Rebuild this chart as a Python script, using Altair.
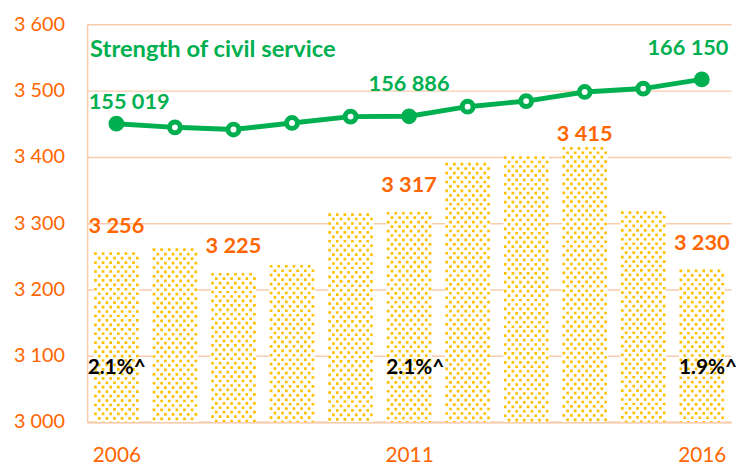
import altair as alt
import pandas as pd

# ---- data ----
years = [2006, 2007, 2008, 2009, 2010, 2011, 2012, 2013, 2014, 2015, 2016]
bar_values = [3256, 3262, 3225, 3237, 3315, 3317, 3391, 3401, 3415, 3318, 3230]
strength = [155019, 154100, 153550, 155200, 156800, 156886, 159300, 160700, 163000, 163850, 166150]
bar_label_years = [2006, 2008, 2011, 2016]
bar_label_years_close = [2014]
line_label_years = [2006, 2011, 2016]
pct_years = [2006, 2011, 2016]
pct_texts = ["2.1%^", "2.1%^", "1.9%^"]
y_ticks = [3000, 3100, 3200, 3300, 3400, 3500, 3600]
x_ticks = [2006, 2011, 2016]
series_title = "Strength of civil service"

FONT = "Lato"
ORANGE = "#FF6600"
GREEN = "#00B050"
GRID = "#F8CBAD"
DOT = "#FFC000"
N_COLS = 12
HALF = 0.39

df = pd.DataFrame({"year": years, "value": bar_values, "strength": strength})
dots = pd.DataFrame(
    [(y, v, c) for y, v in zip(years, bar_values) for c in range(N_COLS)],
    columns=["year", "value", "col"],
)
pct_df = pd.DataFrame({"year": pct_years, "text": pct_texts})

xs = alt.Scale(domain=[2005.5, 2016.5], nice=False, zero=False)
ys = alt.Scale(domain=[3000, 3600], nice=False, zero=False)
rs = alt.Scale(domain=[80000, 180000], nice=False, zero=False)

x_axis = alt.Axis(values=x_ticks, format="d", title=None, grid=False, ticks=False,
                  domainColor=GRID, domainWidth=2, labelColor=ORANGE, labelFont=FONT,
                  labelFontSize=21, labelPadding=23)
y_axis = alt.Axis(values=y_ticks, title=None, grid=True, gridColor=GRID, gridWidth=1.5,
                  ticks=False, domainColor=GRID, domainWidth=1.5, labelColor=ORANGE,
                  labelFont=FONT, labelFontSize=20, labelPadding=23,
                  labelExpr="replace(format(datum.value, ','), ',', ' ')")

bars_bg = alt.Chart(df).transform_calculate(
    x0=f"datum.year - {HALF}", x1=f"datum.year + {HALF}"
).mark_bar(color="white").encode(
    x=alt.X("x0:Q", scale=xs, axis=x_axis),
    x2="x1:Q",
    y=alt.Y("value:Q", scale=ys, axis=y_axis),
    y2=alt.datum(3000),
)

dots_base = alt.Chart(dots).transform_calculate(
    xc=f"datum.year - {HALF} + (datum.col + 0.5) * {2 * HALF} / {N_COLS}"
)
dots_even = dots_base.transform_filter("datum.col % 2 == 0").mark_rule(
    color=DOT, strokeWidth=2.7, strokeDash=[2.7, 6.3]
).encode(x=alt.X("xc:Q", scale=xs), y=alt.Y("value:Q", scale=ys), y2=alt.datum(3000))
dots_odd = dots_base.transform_filter("datum.col % 2 == 1").mark_rule(
    color=DOT, strokeWidth=2.7, strokeDash=[2.7, 6.3], strokeDashOffset=4.5
).encode(x=alt.X("xc:Q", scale=xs), y=alt.Y("value:Q", scale=ys), y2=alt.datum(3000))

lbl_expr = "replace(format(datum.value, ','), ',', ' ')"
bar_lbl = alt.Chart(df).transform_filter(
    alt.FieldOneOfPredicate(field="year", oneOf=bar_label_years)
).transform_calculate(lab=lbl_expr).mark_text(
    font=FONT, fontSize=22, fontWeight="bold", color=ORANGE, baseline="alphabetic", dy=-20
).encode(x=alt.X("year:Q", scale=xs), y=alt.Y("value:Q", scale=ys), text="lab:N")
bar_lbl_close = alt.Chart(df).transform_filter(
    alt.FieldOneOfPredicate(field="year", oneOf=bar_label_years_close)
).transform_calculate(lab=lbl_expr).mark_text(
    font=FONT, fontSize=22, fontWeight="bold", color=ORANGE, baseline="alphabetic", dy=-6
).encode(x=alt.X("year:Q", scale=xs), y=alt.Y("value:Q", scale=ys), text="lab:N")

pct_main = alt.Chart(pct_df).transform_filter("datum.year != 2006").transform_calculate(
    x0=f"datum.year - {HALF}"
).mark_text(font=FONT, fontSize=21, fontWeight="bold", color="black", align="left",
            baseline="alphabetic").encode(
    x=alt.X("x0:Q", scale=xs), y=alt.datum(3073, scale=ys), text="text:N")
pct_first = alt.Chart(pct_df).transform_filter("datum.year == 2006").transform_calculate(
    x0=f"datum.year - {HALF}"
).mark_text(font=FONT, fontSize=21, fontWeight="bold", color="black", align="left",
            baseline="alphabetic", dx=-6).encode(
    x=alt.X("x0:Q", scale=xs), y=alt.datum(3073, scale=ys), text="text:N")

bars = alt.layer(bars_bg, dots_even, dots_odd, bar_lbl, bar_lbl_close, pct_main, pct_first)

line = alt.Chart(df).mark_line(color=GREEN, strokeWidth=5).encode(
    x=alt.X("year:Q", scale=xs), y=alt.Y("strength:Q", scale=rs, axis=None))
pts_filled = alt.Chart(df).transform_filter(
    alt.FieldOneOfPredicate(field="year", oneOf=line_label_years)
).mark_circle(size=254, color=GREEN, opacity=1).encode(
    x=alt.X("year:Q", scale=xs), y=alt.Y("strength:Q", scale=rs, axis=None))
pts_hollow = alt.Chart(df).transform_filter(
    {"not": alt.FieldOneOfPredicate(field="year", oneOf=line_label_years)}
).mark_point(shape="circle", size=120, filled=True, fill="white", stroke=GREEN,
             strokeWidth=5, opacity=1, fillOpacity=1).encode(
    x=alt.X("year:Q", scale=xs), y=alt.Y("strength:Q", scale=rs, axis=None))

s_expr = "replace(format(datum.strength, ','), ',', ' ')"
def line_label(year, align, dx, dy):
    return alt.Chart(df).transform_filter(f"datum.year == {year}").transform_calculate(
        lab=s_expr
    ).mark_text(font=FONT, fontSize=22, fontWeight="bold", color=GREEN, align=align,
                baseline="alphabetic", dx=dx, dy=dy).encode(
        x=alt.X("year:Q", scale=xs), y=alt.Y("strength:Q", scale=rs, axis=None),
        text="lab:N")

lbl_a = line_label(line_label_years[0], "left", -28, -15)
lbl_b = line_label(line_label_years[1], "center", 0, -26)
lbl_c = line_label(line_label_years[2], "right", 27, -25)

title_mark = alt.Chart(df).transform_filter("datum.year == 2006").mark_text(
    font=FONT, fontSize=24, fontWeight="bold", color=GREEN, align="left",
    baseline="alphabetic", text=series_title
).encode(x=alt.value(3), y=alt.value(33))

lines = alt.layer(line, pts_hollow, pts_filled, lbl_a, lbl_b, lbl_c, title_mark)

chart = alt.layer(bars, lines).resolve_scale(y="independent").properties(
    width=651, height=402, autosize="none",
    padding={"left": 80, "top": 14, "right": 5, "bottom": 46},
    background="white",
).configure_view(stroke=None)

chart.save("out.html", embed_options={"renderer": "svg", "actions": False})
